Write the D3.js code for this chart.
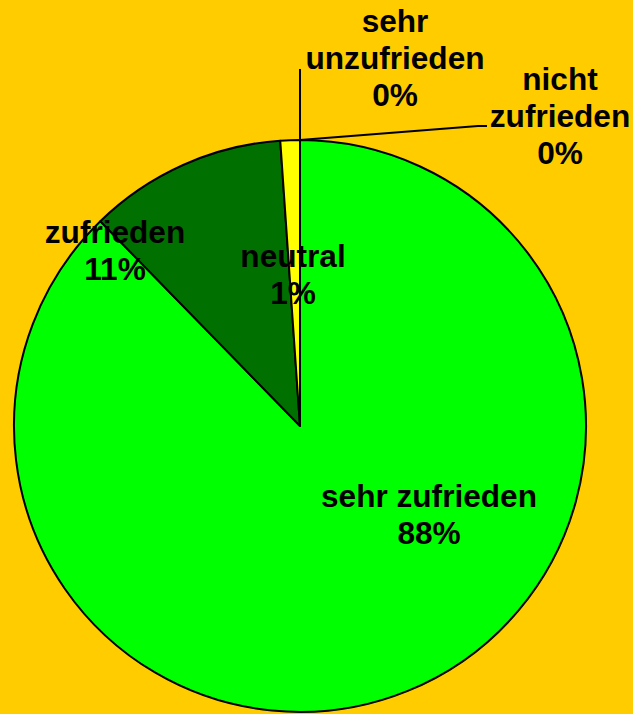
<!DOCTYPE html>
<html>
<head>
<meta charset="utf-8">
<script src="https://cdn.jsdelivr.net/npm/d3@7"></script>
<style>
html,body{margin:0;padding:0;background:#FFCC00;}
svg{display:block;}
</style>
</head>
<body>
<svg id="chart" width="633" height="714"></svg>
<script>
// Data
const categories = ["sehr zufrieden", "zufrieden", "neutral", "nicht zufrieden", "sehr unzufrieden"];
const values = [87.7, 11.2, 1.1, 0, 0];
const percentLabels = ["88%", "11%", "1%", "0%", "0%"];
const labelLines = [["sehr zufrieden"], ["zufrieden"], ["neutral"], ["nicht", "zufrieden"], ["sehr", "unzufrieden"]];
const colors = ["#00FF00", "#007000", "#FFFF00", "#FFFF00", "#FFFF00"];

// Layout (not data)
const W = 633, H = 714;
const cx = 300, cy = 426, R = 286;
const fontSize = 31.6, lineH = 37;
// label anchor (center x, first baseline y)
const labelAnchor = [[429, 507], [115, 243], [293, 267], [560, 90], [395, 32]];

const svg = d3.select("#chart");
svg.append("rect").attr("width", W).attr("height", H).attr("fill", "#FFCC00");

const pie = d3.pie().sort(null).value(d => d)
  .startAngle(0).endAngle(2 * Math.PI);
const arcs = pie(values);
const arc = d3.arc().innerRadius(0).outerRadius(R);

const g = svg.append("g").attr("transform", `translate(${cx},${cy})`);
g.selectAll("path").data(arcs).enter().append("path")
  .filter(d => d.endAngle > d.startAngle)
  .attr("d", arc)
  .attr("fill", (d, i) => colors[i])
  .attr("stroke", "#000")
  .attr("stroke-width", 2)
  .attr("stroke-linejoin", "round");

// Leader lines for zero slices
const pt = (a, r) => [Math.sin(a) * r, -Math.cos(a) * r];
const top0 = pt(arcs[3].startAngle, R);
// nicht zufrieden
g.append("path")
  .attr("d", d3.line()([top0, [478 - cx, 126 - cy], [487 - cx, 126 - cy]]))
  .attr("fill", "none").attr("stroke", "#000").attr("stroke-width", 2);
// sehr unzufrieden
g.append("path")
  .attr("d", d3.line()([top0, [0, 69 - cy]]))
  .attr("fill", "none").attr("stroke", "#000").attr("stroke-width", 2);

// Labels
categories.forEach((c, i) => {
  const lines = labelLines[i].concat([percentLabels[i]]);
  const t = svg.append("text")
    .attr("x", labelAnchor[i][0]).attr("y", labelAnchor[i][1])
    .attr("text-anchor", "middle")
    .attr("font-family", "Liberation Sans, Arial, sans-serif")
    .attr("font-weight", "bold")
    .attr("font-size", fontSize)
    .attr("fill", "#000");
  lines.forEach((l, j) => {
    t.append("tspan").attr("x", labelAnchor[i][0])
      .attr("dy", j === 0 ? 0 : lineH).text(l);
  });
});
</script>
</body>
</html>
